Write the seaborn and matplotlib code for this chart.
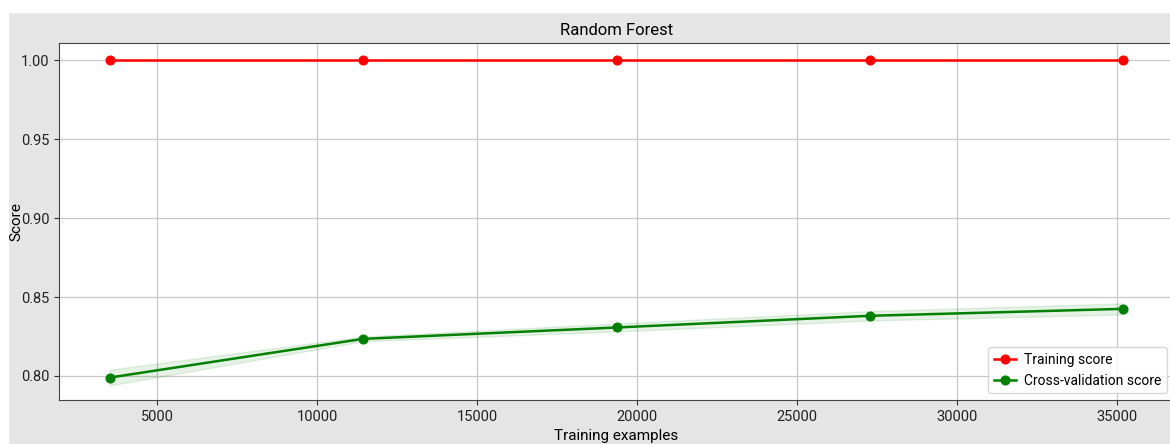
import numpy as np
import matplotlib
matplotlib.use("Agg")
import matplotlib.pyplot as plt
from matplotlib.patches import Rectangle
import seaborn as sns

# learning curve values
train_sizes = [3520, 11440, 19360, 27280, 35200]
train_mean = [1.0, 1.0, 1.0, 1.0, 1.0]
train_std = [0.0, 0.0, 0.0, 0.0, 0.0]
cv_mean = [0.7990, 0.8235, 0.8307, 0.8381, 0.8425]
cv_std = [0.0050, 0.0015, 0.0025, 0.0030, 0.0035]

plt.rcParams['font.family'] = ['Roboto', 'DejaVu Sans']
plt.rcParams['font.size'] = 10.5

W, H = 1170, 444
fig = plt.figure(figsize=(W / 100, H / 100), dpi=100, facecolor='#e5e5e5')

# white strips where the screenshot was cropped
fig.patches.append(Rectangle((0, 1 - 12 / H), 1, 12 / H, transform=fig.transFigure,
                             color='white', zorder=-1))
fig.patches.append(Rectangle((0, 0), 8 / W, 1, transform=fig.transFigure,
                             color='white', zorder=-1))

ax = fig.add_axes([59 / W, 44 / H, (1174 - 59) / W, 357 / H])
ax.set_facecolor('white')

tm = np.array(train_mean)
ts = np.array(train_std)
cm = np.array(cv_mean)
cs = np.array(cv_std)

ax.grid(True, color='#c8c8c8', linewidth=0.9)
ax.set_axisbelow(True)
ax.fill_between(train_sizes, tm - ts, tm + ts, alpha=0.1, color='r')
ax.fill_between(train_sizes, cm - cs, cm + cs, alpha=0.1, color='g')

sns.lineplot(x=train_sizes, y=train_mean, marker='o', color='r', markeredgecolor='r',
             markersize=6.5, linewidth=1.8, label='Training score', ax=ax)
sns.lineplot(x=train_sizes, y=cv_mean, marker='o', color='g', markeredgecolor='g',
             markersize=6.5, linewidth=1.8, label='Cross-validation score', ax=ax)

ax.set_xlim(1936, 36784)
ax.set_ylim(0.7848, 1.0108)
ax.set_xticks([5000, 10000, 15000, 20000, 25000, 30000, 35000])
ax.set_yticks([0.80, 0.85, 0.90, 0.95, 1.00])
ax.set_yticklabels(['0.80', '0.85', '0.90', '0.95', '1.00'])
ax.tick_params(colors='#333333', labelcolor='#222222')
for s in ax.spines.values():
    s.set_color('#444444')

ax.set_title('Random Forest', fontsize=12)
ax.set_xlabel('Training examples', fontsize=11)
ax.set_ylabel('Score', fontsize=11)
ax.yaxis.set_label_coords(-(59 - 23) / (1174 - 59), 0.5)
ax.legend(loc='lower right', fontsize=10, framealpha=0.8, handlelength=1.6,
          handletextpad=0.6, borderaxespad=0.5)

fig.savefig('out.png', dpi=100, facecolor=fig.get_facecolor())
